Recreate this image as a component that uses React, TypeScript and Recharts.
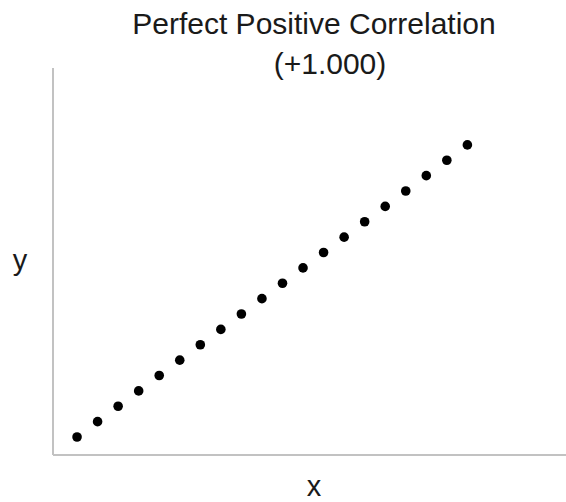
import { ScatterChart, Scatter, XAxis, YAxis, Customized } from 'recharts'

// values (20 evenly spaced points)
const xValues = [1, 2, 3, 4, 5, 6, 7, 8, 9, 10, 11, 12, 13, 14, 15, 16, 17, 18, 19, 20]
const yValues = [1, 2, 3, 4, 5, 6, 7, 8, 9, 10, 11, 12, 13, 14, 15, 16, 17, 18, 19, 20]
const titleLines = ['Perfect Positive Correlation', '(+1.000)']
const xLabel = 'x'
const yLabel = 'y'

const data = xValues.map((x, i) => ({ x, y: yValues[i] }))

const font = '"Liberation Sans", Arial, sans-serif'
const axisColor = '#c2c2c2'

const Dot = (props: any) => <circle cx={props.cx} cy={props.cy} r={4.8} fill="#000" />

const Texts = () => (
  <g fontFamily={font} fill="#1a1a1a">
    <text x={314} y={34} fontSize={30} textAnchor="middle">{titleLines[0]}</text>
    <text x={330} y={74} fontSize={30} textAnchor="middle">{titleLines[1]}</text>
    <text x={20} y={270} fontSize={29} textAnchor="middle">{yLabel}</text>
    <text x={314} y={496} fontSize={29} textAnchor="middle">{xLabel}</text>
  </g>
)

export default function App() {
  return (
    <div style={{ position: 'absolute', left: 0, top: 0, width: 566, height: 502, background: '#fff' }}>
      <ScatterChart width={566} height={502} margin={{ top: 68, right: 0, bottom: 17, left: 23 }}>
        <XAxis
          type="number"
          dataKey="x"
          domain={[-0.17, 24.8]}
          tick={false}
          tickLine={false}
          height={30}
          stroke={axisColor}
          strokeWidth={2}
          axisLine={true}
        />
        <YAxis
          type="number"
          dataKey="y"
          domain={[-0.17, 25]}
          tick={false}
          tickLine={false}
          width={30}
          stroke={axisColor}
          strokeWidth={2}
          axisLine={true}
        />
        <Scatter data={data} shape={Dot} isAnimationActive={false} />
        <Customized component={Texts} />
      </ScatterChart>
    </div>
  )
}
